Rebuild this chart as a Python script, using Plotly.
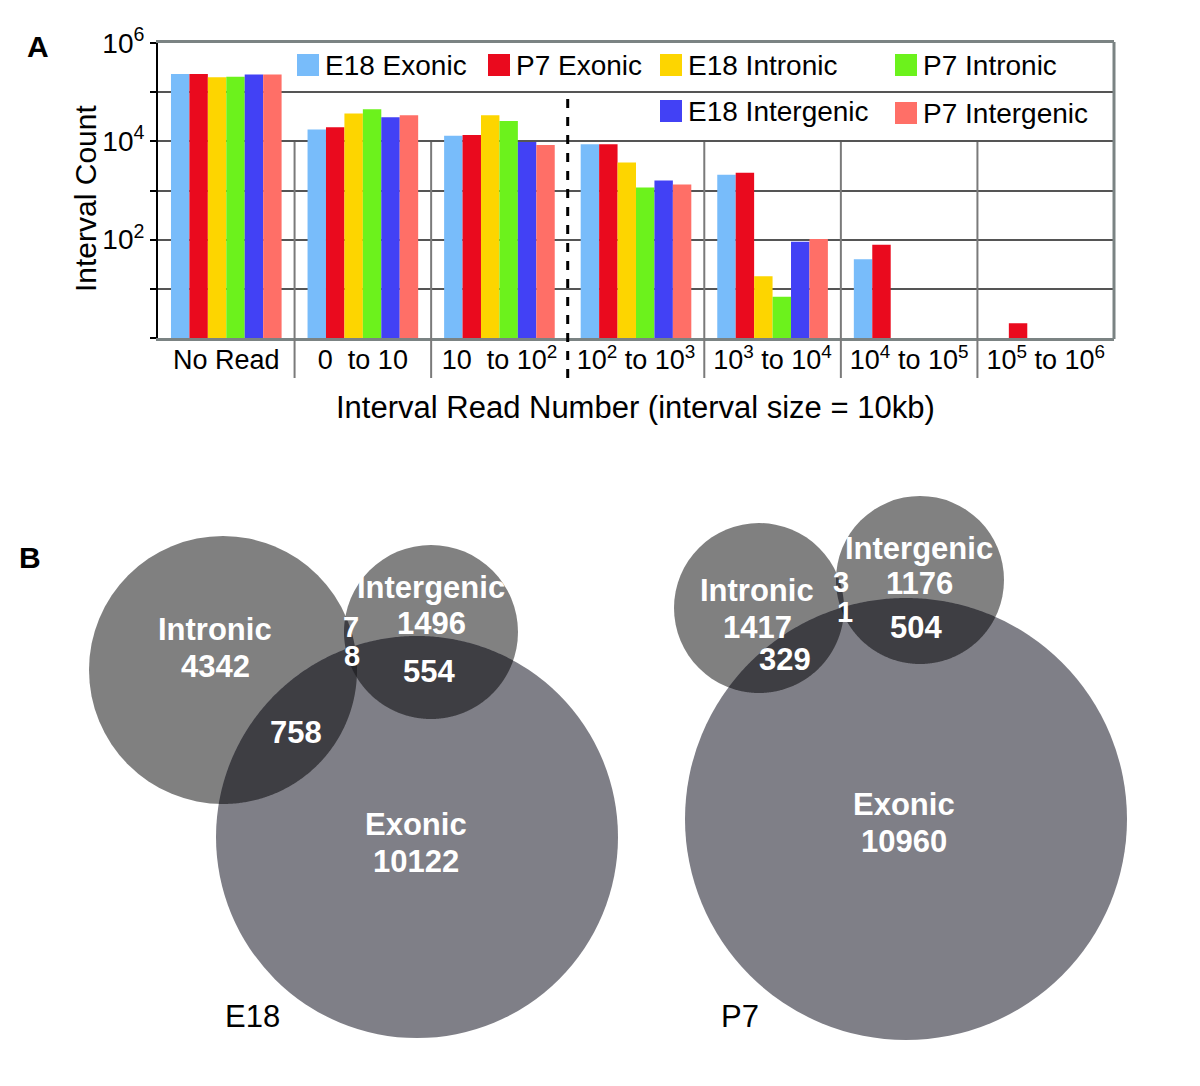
import numpy as np
import plotly.graph_objects as go

# ---------------- data: panel A ----------------
categories = ["No Read", "0  to 10", "10  to 10<sup>2</sup>", "10<sup>2</sup> to 10<sup>3</sup>",
              "10<sup>3</sup> to 10<sup>4</sup>", "10<sup>4</sup> to 10<sup>5</sup>",
              "10<sup>5</sup> to 10<sup>6</sup>"]
series_names = ["E18 Exonic", "P7 Exonic", "E18 Intronic", "P7 Intronic",
                "E18 Intergenic", "P7 Intergenic"]
e18_exonic = [2.33e5, 1.74e4, 1.30e4, 8.7e3, 2.1e3, 40, None]
p7_exonic = [2.33e5, 1.94e4, 1.35e4, 8.7e3, 2.3e3, 79, 2]
e18_intronic = [2.0e5, 3.7e4, 3.4e4, 3.7e3, 18, None, None]
p7_intronic = [2.05e5, 4.5e4, 2.6e4, 1.15e3, 6.9, None, None]
e18_intergenic = [2.3e5, 3.1e4, 9.7e3, 1.6e3, 91, None, None]
p7_intergenic = [2.3e5, 3.4e4, 8.4e3, 1.33e3, 103, None, None]
series_values = [e18_exonic, p7_exonic, e18_intronic, p7_intronic, e18_intergenic, p7_intergenic]

ytick_vals = [1, 10, 100, 1e3, 1e4, 1e5, 1e6]
ytick_text = ["", "", "10<sup>2</sup>", "", "10<sup>4</sup>", "", "10<sup>6</sup>"]

# ---------------- data: panel B ----------------
venn_sets = ["Intronic", "Intergenic", "Exonic"]
e18_only = [4342, 1496, 10122]
p7_only = [1417, 1176, 10960]
e18_pairs = {"Intronic&Intergenic": 7, "Intronic&Exonic": 758, "Intergenic&Exonic": 554, "all": 8}
p7_pairs = {"Intronic&Intergenic": 3, "Intronic&Exonic": 329, "Intergenic&Exonic": 504, "all": 1}

# ---------------- styling / layout ----------------
colors = ["#78BCFA", "#EA0A1E", "#FDD500", "#6CF21C", "#4241F5", "#FF6F67"]
W, H = 1200, 1086
OFF = 8  # page body margin
FONT = "Liberation Sans, Arial, sans-serif"
VFS = 31  # venn label size

def px(x):
    return (x - OFF) / W

def py(y):
    return 1 - (y - OFF) / H

fig = go.Figure()
for name, vals, col in zip(series_names, series_values, colors):
    fig.add_trace(go.Bar(x=categories, y=vals, name=name, marker=dict(color=col, line=dict(width=0)),
                         showlegend=False, xaxis="x", yaxis="y"))

layout_shapes = []
layout_ann = []

# category separators
for i in range(len(categories) - 1):
    if i == 2:
        layout_shapes.append(dict(type="line", xref="x", yref="paper", x0=i + 0.5, x1=i + 0.5,
                                  y0=py(378), y1=py(95), line=dict(color="black", width=3, dash="dash")))
    else:
        layout_shapes.append(dict(type="line", xref="x", yref="paper", x0=i + 0.5, x1=i + 0.5,
                                  y0=py(378), y1=py(142), line=dict(color="#7a7a7a", width=2)))
# right border
layout_shapes.append(dict(type="line", xref="paper", yref="paper", x0=px(1114), x1=px(1114),
                          y0=py(339), y1=py(42), line=dict(color="#7b8383", width=3)))

# custom legend
legend_pos = [(297, 65), (488, 65), (660, 65), (895, 65), (660, 111), (895, 113)]
for name, col, (lx, ly) in zip(series_names, colors, legend_pos):
    layout_shapes.append(dict(type="rect", xref="paper", yref="paper", x0=px(lx), x1=px(lx + 22),
                              y0=py(ly + 11), y1=py(ly - 11), fillcolor=col, line=dict(width=0)))
    layout_ann.append(dict(xref="paper", yref="paper", x=px(lx + 26), y=py(ly), text=name,
                           showarrow=False, xanchor="left", yanchor="middle",
                           font=dict(size=28, color="black", family=FONT)))

# titles / panel letters
layout_ann.append(dict(xref="paper", yref="paper", x=px(635), y=py(407), text="Interval Read Number (interval size = 10kb)",
                       showarrow=False, xanchor="center", yanchor="middle", font=dict(size=31, color="black", family=FONT)))
layout_ann.append(dict(xref="paper", yref="paper", x=px(86), y=py(199), text="Interval Count", textangle=-90,
                       showarrow=False, xanchor="center", yanchor="middle", font=dict(size=30, color="black", family=FONT)))
layout_ann.append(dict(xref="paper", yref="paper", x=px(38), y=py(47), text="<b>A</b>",
                       showarrow=False, xanchor="center", yanchor="middle", font=dict(size=30, color="black", family=FONT)))
layout_ann.append(dict(xref="paper", yref="paper", x=px(30), y=py(557), text="<b>B</b>",
                       showarrow=False, xanchor="center", yanchor="middle", font=dict(size=30, color="black", family=FONT)))

# ---------------- Venn geometry (pixel space on x2/y2) ----------------
venn_geom = {
    "E18": {"Intronic": (223, 670, 134), "Intergenic": (431, 632, 87), "Exonic": (417, 837, 201)},
    "P7": {"Intronic": (759, 608, 85), "Intergenic": (920, 580, 84), "Exonic": (906, 819, 221)},
}
circle_fill = {"Intronic": "#808080", "Intergenic": "#818181", "Exonic": "#7f7f87"}
pair_fill = "#3e3e43"
triple_fill = "#26262a"


def region_path(circles, n=720):
    pts = []
    for (cx, cy, r) in circles:
        t = np.linspace(0, 2 * np.pi, n, endpoint=False)
        x = cx + r * np.cos(t)
        y = cy + r * np.sin(t)
        inside = np.ones(n, dtype=bool)
        for (ox, oy, orr) in circles:
            if (ox, oy, orr) == (cx, cy, r):
                continue
            inside &= (x - ox) ** 2 + (y - oy) ** 2 <= orr ** 2 + 1e-6
        pts.extend(zip(x[inside], y[inside]))
    if len(pts) < 3:
        return None
    pts = np.array(pts)
    c = pts.mean(axis=0)
    ang = np.arctan2(pts[:, 1] - c[1], pts[:, 0] - c[0])
    pts = pts[np.argsort(ang)]
    return "M " + " L ".join(f"{a:.2f},{b:.2f}" for a, b in pts) + " Z"


for key, geom in venn_geom.items():
    for s in venn_sets:
        cx, cy, r = geom[s]
        layout_shapes.append(dict(type="circle", xref="x2", yref="y2", x0=cx - r, x1=cx + r,
                                  y0=cy - r, y1=cy + r, fillcolor=circle_fill[s], line=dict(width=0)))
    for a, b in [("Intronic", "Exonic"), ("Intergenic", "Exonic"), ("Intronic", "Intergenic")]:
        p = region_path([geom[a], geom[b]])
        if p:
            layout_shapes.append(dict(type="path", xref="x2", yref="y2", path=p, fillcolor=pair_fill,
                                      line=dict(width=0)))
    p = region_path([geom[s] for s in venn_sets])
    if p:
        layout_shapes.append(dict(type="path", xref="x2", yref="y2", path=p, fillcolor=triple_fill,
                                  line=dict(width=0)))

# Venn labels
def vlabel(x, y, text, color="white", bold=True, size=VFS):
    layout_ann.append(dict(xref="x2", yref="y2", x=x, y=y, text=f"<b>{text}</b>" if bold else text,
                           showarrow=False, xanchor="center", yanchor="middle",
                           font=dict(size=size, color=color, family=FONT)))

vlabel(215, 629, venn_sets[0]); vlabel(215, 666, str(e18_only[0]))
vlabel(431, 587, venn_sets[1]); vlabel(431, 623, str(e18_only[1]))
vlabel(416, 824, venn_sets[2]); vlabel(416, 861, str(e18_only[2]))
vlabel(351, 627, str(e18_pairs["Intronic&Intergenic"]), size=29)
vlabel(352, 656, str(e18_pairs["all"]), size=29)
vlabel(296, 732, str(e18_pairs["Intronic&Exonic"]))
vlabel(429, 671, str(e18_pairs["Intergenic&Exonic"]))
vlabel(252, 1016, "E18", color="black", bold=False, size=31)

vlabel(757, 590, venn_sets[0]); vlabel(757, 627, str(p7_only[0]))
vlabel(919, 548, venn_sets[1]); vlabel(919, 583, str(p7_only[1]))
vlabel(904, 804, venn_sets[2]); vlabel(904, 841, str(p7_only[2]))
vlabel(841, 582, str(p7_pairs["Intronic&Intergenic"]), size=29)
vlabel(845, 612, str(p7_pairs["all"]), size=29)
vlabel(785, 659, str(p7_pairs["Intronic&Exonic"]))
vlabel(916, 627, str(p7_pairs["Intergenic&Exonic"]))
vlabel(740, 1016, "P7", color="black", bold=False, size=31)

fig.update_layout(
    width=W, height=H, margin=dict(l=0, r=0, t=0, b=0),
    paper_bgcolor="white", plot_bgcolor="rgba(0,0,0,0)",
    barmode="group", bargap=0.19, bargroupgap=0,
    font=dict(family=FONT, color="black"),
    xaxis=dict(domain=[px(158), px(1114)], anchor="y", showgrid=False, showline=True,
               linecolor="#7b8383", linewidth=3, mirror=True, ticks="", ticklabelstandoff=-4,
               tickfont=dict(size=27, family=FONT, color="black"), automargin=False,
               fixedrange=True),
    yaxis=dict(domain=[py(338), py(43)], anchor="x", type="log", range=[0, 6],
               tickvals=ytick_vals, ticktext=ytick_text, ticks="outside", ticklen=6,
               tickcolor="black", tickwidth=2, showline=True, linecolor="black", linewidth=2,
               showgrid=True, gridcolor="#555555", gridwidth=1.5, zeroline=False,
               tickfont=dict(size=28, family=FONT, color="black"), automargin=False,
               fixedrange=True),
    xaxis2=dict(domain=[0, 1], anchor="y2", range=[OFF, W + OFF], visible=False, fixedrange=True),
    yaxis2=dict(domain=[0, 1], anchor="x2", range=[H + OFF, OFF], visible=False, fixedrange=True),
    shapes=layout_shapes, annotations=layout_ann, showlegend=False,
)

fig.write_html("out.html")
